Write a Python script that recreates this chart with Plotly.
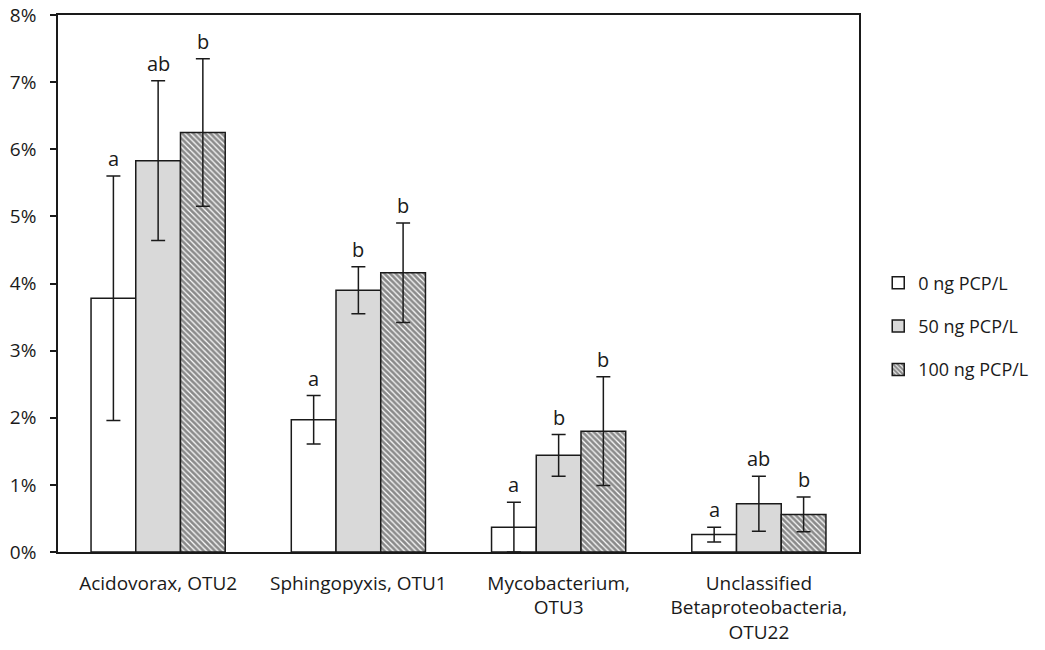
import plotly.graph_objects as go

# Relative abundance (%) of selected OTUs under three PCP treatments
categories = [
    "Acidovorax, OTU2",
    "Sphingopyxis, OTU1",
    "Mycobacterium,<br>OTU3",
    "Unclassified<br>Betaproteobacteria,<br>OTU22",
]
treatments = ["0 ng PCP/L", "50 ng PCP/L", "100 ng PCP/L"]

mean_0 = [3.78, 1.97, 0.37, 0.26]
mean_50 = [5.83, 3.90, 1.44, 0.72]
mean_100 = [6.25, 4.16, 1.80, 0.56]

err_0 = [1.82, 0.36, 0.37, 0.11]
err_50 = [1.19, 0.35, 0.31, 0.41]
err_100 = [1.10, 0.74, 0.81, 0.26]

letters_0 = ["a", "a", "a", "a"]
letters_50 = ["ab", "b", "b", "ab"]
letters_100 = ["b", "b", "b", "b"]

means = [mean_0, mean_50, mean_100]
errs = [err_0, err_50, err_100]
letters = [letters_0, letters_50, letters_100]

FONT = "'Open Sans', sans-serif"
INK = "#1a1a1a"
fills = ["white", "#d9d9d9", "white"]
patterns = [
    dict(shape=""),
    dict(shape=""),
    dict(shape="\\", fgcolor="#151515", bgcolor="#ffffff", size=4, solidity=0.7, fillmode="overlay"),
]

bargap = 0.33
bar_w = (1 - bargap) / 3
x_idx = list(range(len(categories)))

fig = go.Figure()
for k in range(3):
    fig.add_trace(go.Bar(
        name=treatments[k],
        legendgroup=f"g{k}",
        x=x_idx,
        y=means[k],
        marker=dict(color=fills[k], line=dict(color=INK, width=1.5), pattern=patterns[k]),
        error_y=dict(type="data", array=errs[k], visible=True, color=INK, thickness=1.5, width=7),
    ))

# Significance letters above each error bar
for k in range(3):
    for i in x_idx:
        fig.add_annotation(
            x=i + (k - 1) * bar_w,
            y=means[k][i] + errs[k][i],
            text=letters[k][i],
            showarrow=False,
            yanchor="bottom",
            yshift=2,
            font=dict(family=FONT, size=20, color=INK),
        )

fig.update_layout(
    width=1045,
    height=650,
    barmode="group",
    bargap=bargap,
    bargroupgap=0,
    plot_bgcolor="white",
    paper_bgcolor="white",
    margin=dict(l=58, r=186, t=15, b=98, autoexpand=False),
    font=dict(family=FONT, size=19, color=INK),
    legend=dict(
        x=1.024, y=0.42, xanchor="left", yanchor="middle",
        font=dict(family=FONT, size=18, color=INK),
        tracegroupgap=17, itemwidth=30,
    ),
    showlegend=True,
)

fig.update_xaxes(
    tickmode="array",
    tickvals=x_idx,
    ticktext=categories,
    range=[-0.5, 3.5],
    showline=True, linecolor=INK, linewidth=1.5, mirror=True,
    ticks="", showgrid=False,
    ticklabelstandoff=13,
    tickfont=dict(family=FONT, size=19, color=INK),
)
fig.update_yaxes(
    range=[0, 8],
    dtick=1,
    ticksuffix="%",
    showline=True, linecolor=INK, linewidth=1.5, mirror=True,
    ticks="outside", ticklen=6, tickwidth=1.5, tickcolor=INK,
    ticklabelstandoff=10,
    showgrid=False, zeroline=False,
    tickfont=dict(family=FONT, size=19, color=INK),
)

fig.write_html("out.html")
